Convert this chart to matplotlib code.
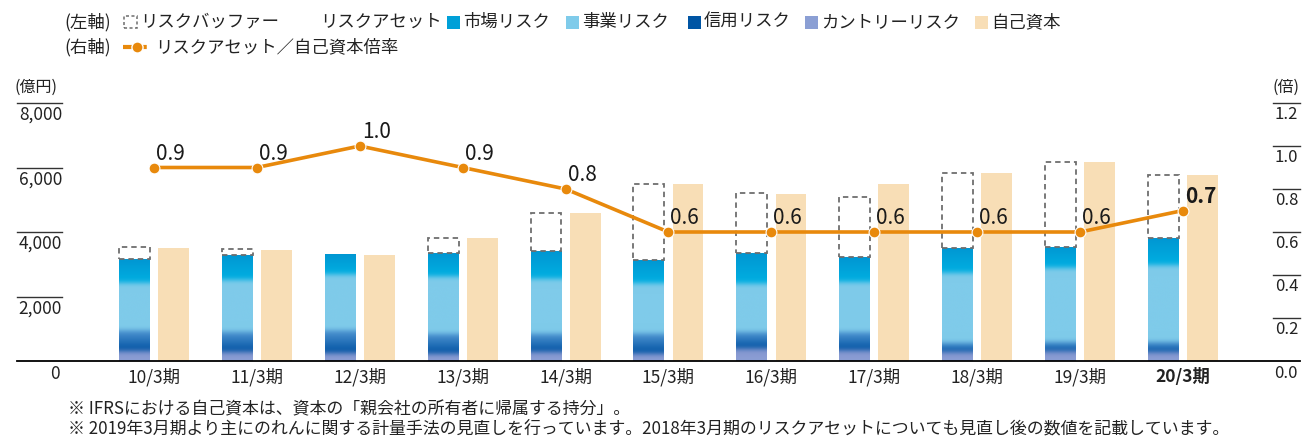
import numpy as np
import matplotlib
matplotlib.use("Agg")
import matplotlib.pyplot as plt
from matplotlib.patches import Rectangle
from matplotlib.colors import to_rgb
from matplotlib.lines import Line2D

plt.rcParams['font.family'] = ['Noto Sans CJK JP', 'DejaVu Sans']

# ---- data (億円 / 倍) ----
categories = ['10/3期', '11/3期', '12/3期', '13/3期', '14/3期', '15/3期',
              '16/3期', '17/3期', '18/3期', '19/3期', '20/3期']
country_risk = [310, 279, 248, 229, 279, 229, 384, 332, 279, 300, 279]
credit_risk = [642, 620, 704, 620, 570, 620, 515, 567, 279, 290, 310]
business_risk = [1467, 1603, 1727, 1777, 1705, 1550, 1500, 1550, 2152, 2276, 2378]
market_risk = [735, 797, 629, 722, 856, 744, 949, 775, 794, 670, 837]
risk_buffer = [372, 164, 0, 466, 1190, 2347, 1852, 1866, 2336, 2624, 1974]
equity = [3504, 3442, 3287, 3814, 4590, 5490, 5180, 5490, 5820, 6160, 5768]
ratio = [0.9, 0.9, 1.0, 0.9, 0.8, 0.6, 0.6, 0.6, 0.6, 0.6, 0.7]

left_ticks = [2000, 4000, 6000, 8000]
right_ticks = [0.2, 0.4, 0.6, 0.8, 1.0, 1.2]

# ---- colours ----
C_MARKET = ('#0096d2', '#00b0e2')
C_BUSINESS = ('#7fcbea', '#7fcbea')
C_CREDIT = ('#4f95d2', '#0052a2')
C_COUNTRY = ('#8596cf', '#8c9fd5')
C_EQUITY = '#f8deb6'
C_LINE = '#e8890c'
C_DASH = '#6e6e6e'

W, H = 1307, 438
fig = plt.figure(figsize=(W / 100, H / 100), dpi=100)


def fx(x):
    return x / W


def fy(y):
    return 1 - y / H


ax = fig.add_axes([fx(17), fy(361), 1283 / W, 258 / H])
ax2 = ax.twinx()

x = np.arange(len(categories))
bw = 0.30
off = 0.19


def gradient_stack(ax, xc, segs, colours, sigma=75.0, n=600):
    """Stacked bar filled with a vertical colour profile softened at joins."""
    total = float(sum(segs))
    ys = np.linspace(0, total, n)
    bounds = np.concatenate([[0], np.cumsum(segs)])
    prof = np.zeros((n, 3))
    for k in range(len(segs)):
        lo, hi = bounds[k], bounds[k + 1]
        m = (ys >= lo) & (ys <= hi)
        if hi <= lo:
            continue
        t = ((ys[m] - lo) / (hi - lo))[:, None]
        # colours given as (top, bottom) of each segment
        top, bot = np.array(to_rgb(colours[k][0])), np.array(to_rgb(colours[k][1]))
        prof[m] = bot * (1 - t) + top * t
    step = total / (n - 1)
    s = max(sigma / step, 0.5)
    r = int(4 * s)
    kern = np.exp(-0.5 * (np.arange(-r, r + 1) / s) ** 2)
    kern /= kern.sum()
    pad = np.pad(prof, ((r, r), (0, 0)), mode='edge')
    sm = np.stack([np.convolve(pad[:, c], kern, mode='valid') for c in range(3)], axis=1)
    img = sm[:, None, :]
    bars = ax.bar([xc], [total], width=bw, color=colours[0][1], zorder=2)
    im = ax.imshow(img, extent=[xc - bw / 2, xc + bw / 2, 0, total], origin='lower',
                   aspect='auto', interpolation='bilinear', zorder=2.1)
    im.set_clip_path(bars[0])


for i in x:
    segs = [country_risk[i], credit_risk[i], business_risk[i], market_risk[i]]
    cols = [C_COUNTRY, C_CREDIT, C_BUSINESS, C_MARKET]
    gradient_stack(ax, i - off, segs, cols)
    total = sum(segs)
    if risk_buffer[i] > 0:
        ax.add_patch(Rectangle((i - off - bw / 2, total), bw, risk_buffer[i], fill=False,
                               edgecolor=C_DASH, lw=1.3, ls=(0, (3, 2.2)), zorder=3))

ax.bar(x + off, equity, width=bw, color=C_EQUITY, zorder=2)

ax.set_xlim(-1.331, 11.137)
ax.set_ylim(0, 8000)
ax2.set_ylim(0, 1.2)

for a in (ax, ax2):
    for s in ('top', 'left', 'right'):
        a.spines[s].set_visible(False)
    a.set_yticks([])
ax2.spines['bottom'].set_visible(False)
ax.spines['bottom'].set_color('black')
ax.spines['bottom'].set_linewidth(1.3)

ax.set_xticks(x)
ax.set_xticklabels(categories, fontsize=12.5, color='#222222')
ax.tick_params(axis='x', length=0, pad=5)
ax.get_xticklabels()[-1].set_fontweight('bold')

# left scale
yt = ax.get_yaxis_transform()
lw_frac = 45 / 1283
for v in left_ticks:
    ax.plot([0, lw_frac], [v, v], transform=yt, color='#333333', lw=1.0, clip_on=False)
    ax.annotate(f'{v:,}', (lw_frac, v), xycoords=yt, xytext=(0, -3), textcoords='offset pixels',
                ha='right', va='top', fontsize=12.5, color='#222222')
ax.annotate('0', (lw_frac - 2 / 1283, 0), xycoords=yt, xytext=(0, -4), textcoords='offset pixels',
            ha='right', va='top', fontsize=12.5, color='#222222')

# right scale
yt2 = ax2.get_yaxis_transform()
r0 = (1273 - 17) / 1283
for v in right_ticks:
    ax2.plot([r0, 1.0], [v, v], transform=yt2, color='#333333', lw=1.0, clip_on=False)
    ax2.annotate(f'{v:.1f}', (1.0, v), xycoords=yt2, xytext=(-2, -3), textcoords='offset pixels',
                 ha='right', va='top', fontsize=12, color='#222222')
ax2.annotate('0.0', (1.0, 0), xycoords=yt2, xytext=(-2, -4), textcoords='offset pixels',
             ha='right', va='top', fontsize=12, color='#222222')

fig.text(fx(15), fy(87), '(億円)', ha='left', va='center', fontsize=11.5, color='#222222')
fig.text(fx(1300), fy(87), '(倍)', ha='right', va='center', fontsize=11.5, color='#222222')

# ratio line
ax2.plot(x, ratio, color=C_LINE, lw=2.6, marker='o', ms=7.8, mfc=C_LINE,
         mec='white', mew=0.8, zorder=5, solid_capstyle='round')
for i, r in enumerate(ratio):
    ax2.annotate(f'{r:.1f}', (i, r), xytext=(2, 8), textcoords='offset pixels',
                 ha='left', va='baseline', fontsize=15, color='#1a1a1a',
                 fontweight='bold' if i == len(ratio) - 1 else 'normal', zorder=6)

# legend
ly1, ly2 = 22, 47
lfs = 12.5
fig.text(fx(64), fy(ly1), '(左軸)', ha='left', va='center', fontsize=lfs, color='#222222')
fig.add_artist(Rectangle((fx(124), fy(ly1 + 6)), 13 / W, 12 / H, transform=fig.transFigure,
                         fill=False, edgecolor=C_DASH, lw=1.1, ls=(0, (2, 1.6))))
fig.text(fx(140), fy(ly1), 'リスクバッファー', ha='left', va='center', fontsize=lfs, color='#222222')
fig.text(fx(320), fy(ly1), 'リスクアセット', ha='left', va='center', fontsize=lfs, color='#222222')
legend_items = [(447, '#00a0d8', '市場リスク'), (566, '#7fcbea', '事業リスク'),
                (688, '#0055a4', '信用リスク'), (805, '#8b9fd4', 'カントリーリスク'),
                (975, C_EQUITY, '自己資本')]
for lx, col, lab in legend_items:
    fig.add_artist(Rectangle((fx(lx), fy(ly1 + 6.5)), 13 / W, 13 / H, transform=fig.transFigure,
                             facecolor=col, edgecolor='none'))
    fig.text(fx(lx + 16), fy(ly1), lab, ha='left', va='center', fontsize=lfs, color='#222222')

fig.text(fx(64), fy(ly2), '(右軸)', ha='left', va='center', fontsize=lfs, color='#222222')
fig.add_artist(Line2D([fx(123), fx(151)], [fy(ly2), fy(ly2)], transform=fig.transFigure,
                      color=C_LINE, lw=3, dashes=(2.2, 1.3)))
fig.add_artist(Line2D([fx(137)], [fy(ly2)], transform=fig.transFigure, marker='o', ms=8,
                      color=C_LINE, mec='white', mew=1.0))
fig.text(fx(155), fy(ly2), 'リスクアセット／自己資本倍率', ha='left', va='center', fontsize=lfs,
         color='#222222')

# notes
fig.text(fx(68), fy(409), '※ IFRSにおける自己資本は、資本の「親会社の所有者に帰属する持分」。',
         ha='left', va='center', fontsize=12.2, color='#222222')
fig.text(fx(68), fy(428),
         '※ 2019年3月期より主にのれんに関する計量手法の見直しを行っています。'
         '2018年3月期のリスクアセットについても見直し後の数値を記載しています。',
         ha='left', va='center', fontsize=12.2, color='#222222')

fig.savefig('out.png', dpi=100)
